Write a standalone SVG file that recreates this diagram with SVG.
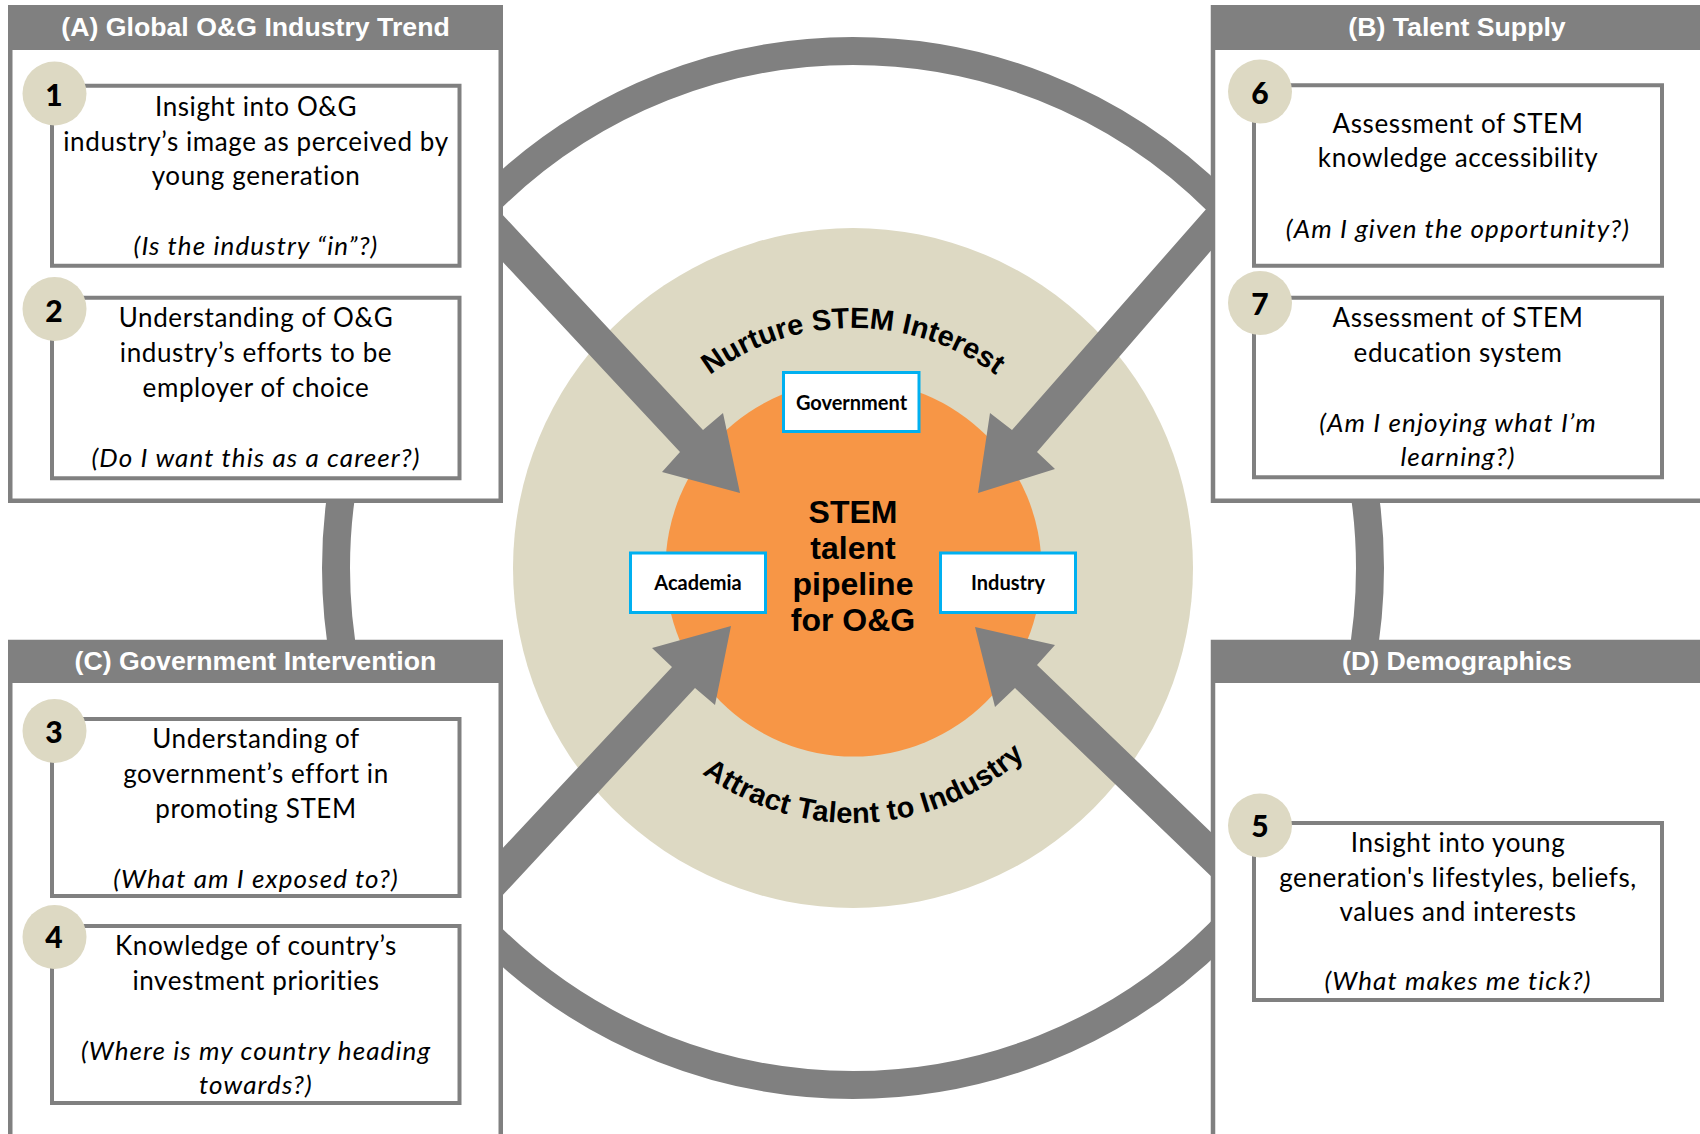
<svg xmlns="http://www.w3.org/2000/svg" width="1700" height="1134" viewBox="0 0 1700 1134">
<style>
.panel{fill:#fff;stroke:#808080;stroke-width:4.5}
.hdr{fill:#808080}
.ttl{font-family:"Liberation Sans",Arial,sans-serif;font-weight:bold;font-size:26.7px;fill:#fff;text-anchor:middle}
.box{fill:#fff;stroke:#808080;stroke-width:4}
.num{fill:#DDD9C3}
.numt{font-family:Lato,"Liberation Sans",sans-serif;font-weight:900;font-size:30px;fill:#000;text-anchor:middle}
.body{font-family:Lato,"Liberation Sans",sans-serif;font-size:26px;letter-spacing:0.6px;fill:#000;text-anchor:middle}
.q{font-style:italic;letter-spacing:1.1px}
.lbl{fill:#fff;stroke:#00B0F0;stroke-width:3}
.lblt{font-family:Lato,"Liberation Sans",sans-serif;font-weight:bold;font-size:20px;fill:#000;text-anchor:middle}
.arc{font-family:"Liberation Sans",Arial,sans-serif;font-weight:bold;font-size:29px;fill:#000}
.core{font-family:"Liberation Sans",Arial,sans-serif;font-weight:bold;font-size:32px;fill:#000;text-anchor:middle}
.arrow{fill:#808080}
</style>
<defs>
<path id="arcTop" d="M 613,568 A 240,240 0 0 1 1093,568"/>
<path id="arcBot" d="M 598,568 A 255,255 0 0 0 1108,568"/>
</defs>
<rect width="1700" height="1134" fill="#fff"/>

<g id="hub">
<circle cx="853" cy="568" r="340" fill="#DDD9C3"/>
<circle cx="853.5" cy="568.5" r="188" fill="#F79646"/>
<text class="arc"><textPath href="#arcTop" startOffset="50%" text-anchor="middle">Nurture STEM Interest</textPath></text>
<text class="arc" style="letter-spacing:0.3px"><textPath href="#arcBot" startOffset="51.7%" text-anchor="middle">Attract Talent to Industry</textPath></text>
<text class="core" x="853" y="523">STEM</text>
<text class="core" x="853" y="559">talent</text>
<text class="core" x="853" y="595">pipeline</text>
<text class="core" x="853" y="631">for O&amp;G</text>
</g>

<g id="connectors">
<circle cx="853" cy="568" r="517" fill="none" stroke="#808080" stroke-width="28"/>
<polygon class="arrow" points="500,212 703,430 723,413 740,493 662,472 680,452 500,259"/>
<polygon class="arrow" points="1215,199 1012,430 990,413 978,493 1055,469 1037,452 1215,246"/>
<polygon class="arrow" points="500,851 672,667 652,648 731,626 715,705 695,688 500,898"/>
<polygon class="arrow" points="1215,836 1037,665 1055,645 975,627 995,707 1015,688 1215,880"/>
</g>

<g id="panel-a">
<rect class="panel" x="10.25" y="7.25" width="490.5" height="493.5"/>
<rect class="hdr" x="8" y="5" width="495" height="45"/>
<text class="ttl" x="255.5" y="36">(A) Global O&amp;G Industry Trend</text>
<g id="item-1">
<rect class="box" x="52" y="85.75" width="407.5" height="180"/>
<circle class="num" cx="54.5" cy="93.5" r="32"/>
<text class="numt" x="54" y="106">1</text>
<text class="body" x="256" y="116">Insight into O&amp;G</text>
<text class="body" x="256" y="151">industry’s image as perceived by</text>
<text class="body" x="256" y="185">young generation</text>
<text class="body q" x="256" y="255">(Is the industry “in”?)</text>
</g>
<g id="item-2">
<rect class="box" x="52" y="297.75" width="407.5" height="180.5"/>
<circle class="num" cx="54.5" cy="309" r="32"/>
<text class="numt" x="54" y="322">2</text>
<text class="body" x="256" y="327">Understanding of O&amp;G</text>
<text class="body" x="256" y="362">industry’s efforts to be</text>
<text class="body" x="256" y="397">employer of choice</text>
<text class="body q" x="256" y="467">(Do I want this as a career?)</text>
</g>
</g>

<g id="panel-b">
<rect class="panel" x="1213" y="7.25" width="600" height="493.5"/>
<rect class="hdr" x="1211" y="5" width="600" height="45"/>
<text class="ttl" x="1457" y="36">(B) Talent Supply</text>
<g id="item-6">
<rect class="box" x="1254" y="85.25" width="408" height="180.5"/>
<circle class="num" cx="1260" cy="91.5" r="32"/>
<text class="numt" x="1260" y="104">6</text>
<text class="body" x="1458" y="133">Assessment of STEM</text>
<text class="body" x="1458" y="167">knowledge accessibility</text>
<text class="body q" x="1458" y="238">(Am I given the opportunity?)</text>
</g>
<g id="item-7">
<rect class="box" x="1254" y="297.75" width="408" height="179.5"/>
<circle class="num" cx="1260" cy="303" r="32"/>
<text class="numt" x="1260" y="315">7</text>
<text class="body" x="1458" y="327">Assessment of STEM</text>
<text class="body" x="1458" y="362">education system</text>
<text class="body q" x="1458" y="432">(Am I enjoying what I’m</text>
<text class="body q" x="1458" y="466">learning?)</text>
</g>
</g>

<g id="panel-c">
<rect class="panel" x="10.25" y="642" width="490.5" height="600"/>
<rect class="hdr" x="8" y="640" width="495" height="43"/>
<text class="ttl" x="255.5" y="670">(C) Government Intervention</text>
<g id="item-3">
<rect class="box" x="52" y="719" width="407.5" height="177"/>
<circle class="num" cx="54.5" cy="731" r="32"/>
<text class="numt" x="54" y="743">3</text>
<text class="body" x="256" y="748">Understanding of</text>
<text class="body" x="256" y="783">government’s effort in</text>
<text class="body" x="256" y="818">promoting STEM</text>
<text class="body q" x="256" y="888">(What am I exposed to?)</text>
</g>
<g id="item-4">
<rect class="box" x="52" y="926" width="407.5" height="177"/>
<circle class="num" cx="54.5" cy="937" r="32"/>
<text class="numt" x="54" y="948">4</text>
<text class="body" x="256" y="955">Knowledge of country’s</text>
<text class="body" x="256" y="990">investment priorities</text>
<text class="body q" x="256" y="1060">(Where is my country heading</text>
<text class="body q" x="256" y="1094">towards?)</text>
</g>
</g>

<g id="panel-d">
<rect class="panel" x="1213" y="642" width="600" height="600"/>
<rect class="hdr" x="1211" y="640" width="600" height="43"/>
<text class="ttl" x="1457" y="670">(D) Demographics</text>
<g id="item-5">
<rect class="box" x="1254" y="823" width="408" height="177"/>
<circle class="num" cx="1260" cy="825.5" r="32"/>
<text class="numt" x="1260" y="837">5</text>
<text class="body" x="1458" y="852">Insight into young</text>
<text class="body" x="1458" y="887">generation's lifestyles, beliefs,</text>
<text class="body" x="1458" y="921">values and interests</text>
<text class="body q" x="1458" y="990">(What makes me tick?)</text>
</g>
</g>

<g id="government">
<rect class="lbl" x="783.5" y="372.5" width="135.5" height="59"/>
<text class="lblt" x="851.5" y="410">Government</text>
</g>
<g id="academia">
<rect class="lbl" x="630.5" y="553" width="135" height="59.5"/>
<text class="lblt" x="698" y="590">Academia</text>
</g>
<g id="industry">
<rect class="lbl" x="940.5" y="553" width="135" height="59.5"/>
<text class="lblt" x="1008" y="590">Industry</text>
</g>
</svg>
